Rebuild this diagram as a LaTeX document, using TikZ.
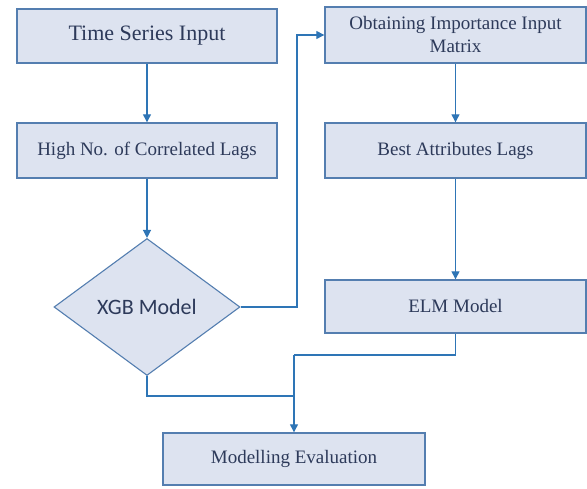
\documentclass[tikz,border=0pt]{standalone}
\usepackage{fontspec}
\setmainfont{Liberation Serif}
\newfontfamily\xgbfont{Carlito}
\usetikzlibrary{shapes.geometric,arrows.meta,calc}
\definecolor{boxfill}{RGB}{221,227,240}
\definecolor{boxline}{RGB}{84,126,176}
\definecolor{arrowc}{RGB}{46,117,182}
\definecolor{txt}{RGB}{45,58,90}
\begin{document}
\begin{tikzpicture}[x=1pt,y=1pt,
  box/.style={draw=boxline,fill=boxfill,line width=1.4pt,minimum width=260pt,inner sep=0pt,text=txt,align=center,font=\fontsize{19}{23}\selectfont},
  dia/.style={diamond,draw=boxline,fill=boxfill,line width=1.1pt,minimum width=186pt,minimum height=137pt,inner sep=0pt,aspect=1.36,text=txt,font=\xgbfont\fontsize{22}{26}\selectfont},
  conn/.style={draw=arrowc,line width=1.3pt},
  arr/.style={conn,-{Triangle[length=8pt,width=8pt]}}]
\useasboundingbox (0,0) rectangle (587,-489);
\node[box,minimum height=54pt,font=\fontsize{22}{26}\selectfont] (b1) at (147,-36) {Time Series Input};
\node[box,minimum height=55pt] (b2) at (147,-150.5) {High No. of Correlated Lags};
\node[dia] (d) at (147,-307) {XGB Model};
\node[box,minimum width=261pt,minimum height=56pt] (b3) at (455.5,-35) {Obtaining Importance Input\\Matrix};
\node[box,minimum width=261pt,minimum height=55pt] (b4) at (455.5,-150.5) {Best Attributes Lags};
\node[box,minimum width=261pt,minimum height=53pt] (b5) at (455.5,-306.5) {ELM Model};
\node[box,minimum width=262pt,minimum height=52pt] (b6) at (294,-459) {Modelling Evaluation};
\coordinate (k1) at (297,-307);
\coordinate (j1) at (294,-355);
\coordinate (j2) at (294,-396);
\draw[arr] (b1) -- (b2);
\draw[arr] (b2) -- (d);
\draw[arr] (d.east) -- (k1) |- (b3.west);
\draw[arr] (b3) -- (b4);
\draw[arr] (b4) -- (b5);
\draw[conn] (b5.south) |- (j1);
\draw[arr] (j1) -- (b6.north);
\draw[conn] (d.south) |- (j2);
\end{tikzpicture}
\end{document}
